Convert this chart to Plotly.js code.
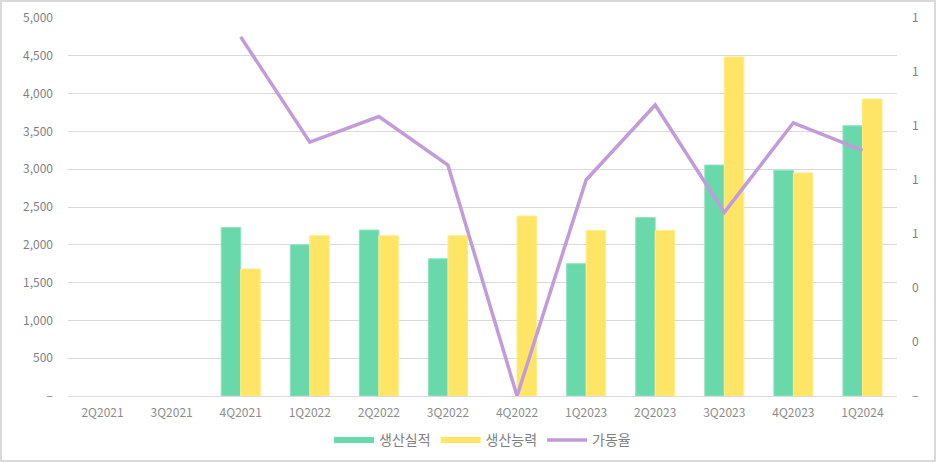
<!DOCTYPE html>
<html>
<head>
<meta charset="utf-8">
<script src="https://cdn.plot.ly/plotly-3.0.1.min.js"></script>
<style>
html,body{margin:0;padding:0;background:#fff;}
#chart{width:936px;height:462px;box-sizing:border-box;border:2px solid #d9d9d9;}
</style>
</head>
<body>
<div id="chart"></div>
<script>
const categories = ["2Q2021","3Q2021","4Q2021","1Q2022","2Q2022","3Q2022","4Q2022","1Q2023","2Q2023","3Q2023","4Q2023","1Q2024"];
const production = [null,null,2230,2000,2195,1815,null,1750,2360,3055,2985,3575];
const capacity = [null,null,1680,2120,2120,2120,2380,2190,2190,4485,2950,3930];
const utilization = [null,null,1.33,0.94,1.035,0.855,0,0.80,1.078,0.68,1.012,0.91];
const seriesNames = ["생산실적","생산능력","가동율"];
const leftTicks = [0,500,1000,1500,2000,2500,3000,3500,4000,4500,5000];
const rightTicks = [0,0.2,0.4,0.6,0.8,1.0,1.2,1.4];

const fmtLeft = v => v === 0 ? "–" : v.toLocaleString("en-US");
const fmtRight = v => v === 0 ? "–" : String(Math.round(v));

const green = "#69D8AB", yellow = "#FFE566", purple = "#C29CDA";
const font = {family: "Noto Sans CJK KR, Noto Sans, sans-serif", size: 12, color: "#7f7f7f"};

const traces = [
  {type:"bar", x:categories, y:production, name:seriesNames[0], marker:{color:green, line:{color:"#8fe3c0", width:1}}, showlegend:false},
  {type:"bar", x:categories, y:capacity, name:seriesNames[1], marker:{color:yellow, line:{color:"#ffeb8a", width:1}}, showlegend:false},
  {type:"scatter", mode:"lines", x:categories, y:utilization, name:seriesNames[2], yaxis:"y2", line:{color:purple, width:3.5}, connectgaps:false, showlegend:false},
  {type:"scatter", mode:"lines", x:categories, y:categories.map(()=>null), name:seriesNames[0], line:{color:green, width:6}, showlegend:true},
  {type:"scatter", mode:"lines", x:categories, y:categories.map(()=>null), name:seriesNames[1], line:{color:yellow, width:6}, showlegend:true},
  {type:"scatter", mode:"lines", x:categories, y:categories.map(()=>null), name:seriesNames[2], line:{color:purple, width:3.5}, showlegend:true}
];

const layout = {
  width:932, height:458,
  margin:{l:66, r:37, t:16, b:64, autoexpand:false},
  paper_bgcolor:"#fff", plot_bgcolor:"#fff",
  font:font,
  barmode:"group", bargap:0.435, bargroupgap:0,
  xaxis:{type:"category", showgrid:false, showline:true, linecolor:"#d9d9d9", linewidth:1, ticks:"", ticklabelstandoff:6, tickfont:{size:12,color:"#8c8c8c"}, automargin:false},
  yaxis:{range:[0,5000], tickmode:"array", tickvals:leftTicks, ticktext:leftTicks.map(fmtLeft), showgrid:true, gridcolor:"#d9d9d9", gridwidth:1, zeroline:false, ticks:"", ticklabelstandoff:14, tickfont:{size:12,color:"#7f7f7f"}, automargin:false},
  yaxis2:{range:[0,1.4], overlaying:"y", side:"right", tickmode:"array", tickvals:rightTicks, ticktext:rightTicks.map(fmtRight), showgrid:false, zeroline:false, ticks:"", ticklabelstandoff:14, tickfont:{size:12,color:"#7f7f7f"}, automargin:false},
  legend:{orientation:"h", x:0.5, xanchor:"center", y:-0.075, yanchor:"top", font:{size:14,color:"#7f7f7f"}, itemwidth:40, traceorder:"normal"},
  showlegend:true
};

Plotly.newPlot("chart", traces, layout, {displayModeBar:false, staticPlot:true});
</script>
</body>
</html>
